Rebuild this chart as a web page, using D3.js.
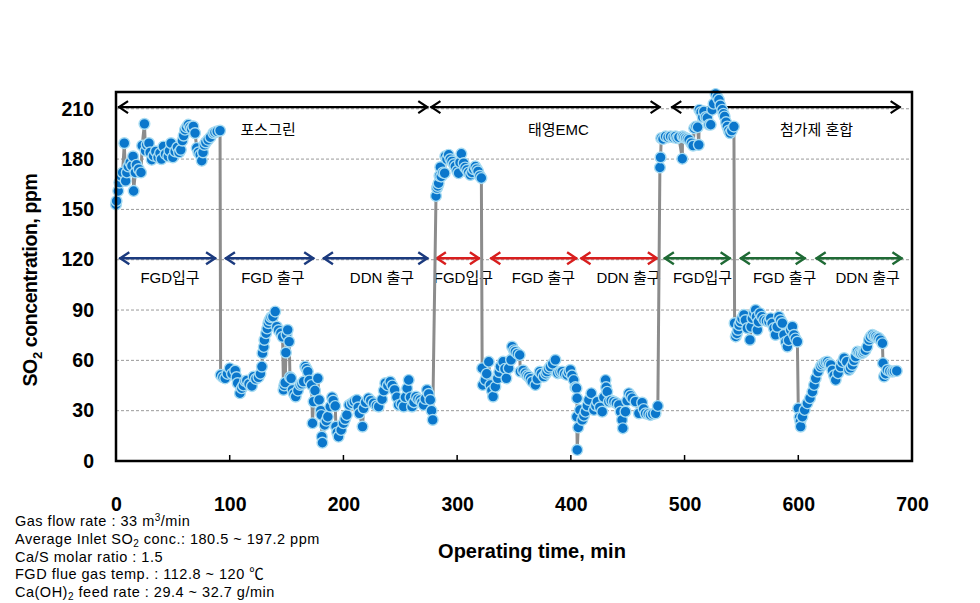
<!DOCTYPE html>
<html><head><meta charset="utf-8">
<script src="https://cdn.jsdelivr.net/npm/d3@7"></script>
<style>
html,body{margin:0;padding:0;background:#fff;}
svg{display:block;}
</style></head>
<body>
<svg id="chart" width="980" height="603"></svg>
<script>
// ---------- DATA ----------
const times = [
 0,0.5,2,3,4.4,5.8,7.3,8.5,9.5,10.8,12.5,14,15,15.5,17,18,20,22,23,25,26,27,29,30,31.4,33,35,37,38.7,40,41.7,43.5,46,47,48.4,50,52,54,55.5,57,58.4,59.5,60.7,62,63.6,65,66.5,68,69.5,71,72.5,74,75.4,76.5,77.7,79,81,83,85.6,87,89,91.5,
 92,94,96,98,100,102,104.8,106,107,109,110.6,112,113.5,115,117,119.5,121,123,125.3,127,128.3,128.8,130,130.5,132,133,134,135,136.4,138,140,141.4,143,145,146.5,147.3,148,148.8,149.4,150,151,152.3,153,154,155.2,156.5,158,160,162,163.5,165,166.4,167.5,168.7,170,172,172.8,173.7,175,177.5,178.7,180,180.5,181,181.5,183.4,185,186.3,188.4,190,191,192.8,193.4,194.5,195.7,198,200,201.5,203,205,207.4,209.5,211.8,213,214,216.8,217.7,219.5,222,224,226.5,229,231,234,235.5,236.8,239,241.2,243,245,247,248.5,251,253,254.5,256,257.4,259,260.3,262,263.8,265.5,267.6,269,270.5,272,273.5,275,276.4,277.5,278.5,
 281.4,282.3,283,283.7,284.5,285.2,286,287.5,289,289.6,291,292.5,294,295.5,297,298.4,300,301.3,302.5,303.7,305.7,307,308.7,310,311.6,313,314.5,316,317.3,318.4,320,321.3,
 322,322.5,324.8,326,327.8,329.2,330.5,331.6,333.6,335.7,337,338,340.4,342,343.3,345.3,347.4,348.3,350,351.2,353,355,355.6,358,360,361.5,363,364.5,366,368.8,370.5,372.6,374,376.1,378,379,380.5,382,384,386.4,388.5,390.5,392.3,394.5,396.7,398,399.6,401,402.5,404,405,405.5,405.2,405.6,406.5,408,410,411.5,412.9,414.5,415.8,418,420.3,422,423.3,425.5,427.6,429,430.5,431,432,433.4,435.5,437.8,440,442.2,443.7,445,445.7,448,449.5,451,452.5,454,456.9,459.8,462.7,464,465.7,468,470,472,474.5,476.5,
 478.3,478.9,479.5,481,483.3,485.5,487.7,490,492,493.5,495,498,498.2,499.5,501,502.5,504,506,507.5,508.5,510,511.5,512.5,513,514.5,516,517,518.5,520,521.5,523,524.3,525.5,527.3,528.8,530.2,531.5,533.2,534.2,535.2,536.5,537.6,538.8,540,541.5,543.4,
 544,545,546,547,548,549.3,550.5,552.2,553.5,555.2,557.5,558.5,559.6,561,562.5,563.2,564,565,566.3,568,569.8,572,574.2,575.7,577,578.6,580,581.5,583,584.5,586,587.4,589,590.4,591.5,593.3,594.8,596.2,597.5,599.2,
 600,601,601.8,602.1,603.6,605.6,608,610.3,612.4,613.9,615.3,617.4,619.7,621,622.6,624,625.6,627,628.5,630,631.5,632.9,635,637.3,638.8,640.3,642.6,644.6,646,647.6,649,650.5,652,653.5,654.9,656.5,657.8,659,660.7,662.2,663.5,665.2,666.5,668.1,669.5,671,672.5,674,674.5,675.4,676.8,678.3,680.5,682.7,684.5,686.6
];
const so2 = [
 153,155,161,166,170,172,189.5,167,172,175.6,178,176,181.6,161,172,176.6,174,172,188,201,185,188.5,189.5,184,179.6,182,184.6,181,183.6,180,187.5,183,181.6,185,189.5,181,184.6,187,184,185.5,191,194,197.5,199,200.5,199,198,199.5,195.5,186.6,184,182.6,179,184,188.5,190,191.5,193,195.5,196,196.5,197,
 51.3,50,49.3,52,55.3,52,53.9,50,46.4,40.4,43.4,45,47.7,48,46,44.7,50.3,49,49.9,52,56.3,64.3,68,72.2,76.2,79,82.2,84,85.7,86,89.1,80.1,78,76.2,74,42.4,45,46.7,64.6,75.2,78.2,71.2,50,49.3,42.4,40,38.4,42,45.3,46,47.3,56.3,55,53.3,48,45.3,22.5,35.4,42,49.3,36.4,30,27.4,14.5,10.9,21.5,24,26.4,32.4,38,36,32.8,20.5,17,14.5,18.5,22.5,25,27.4,33.4,34.4,35.5,36.4,32,28.4,20.5,31.4,35,37.4,36,34.4,33,32.4,36.8,42,46.4,45,47.3,45,42.4,38,33.4,34,32.4,38,43.4,48.3,38,32.4,35,38.4,37,36.4,35,33.4,37,42.4,40,36.4,30,24.5,
 158,162.7,164,165.6,170,175.2,169.6,172,171.6,181.6,180,182.6,180,178.6,177,175.6,173,171.6,178,183.2,177.6,175,173.6,172,170.6,172,174,175.6,174,172.7,170,168.7,
 55.3,45.3,48.3,52,59.2,45.3,42,38.4,44.3,49.3,53,56.3,59.2,55,49.3,55.3,60.3,68.2,66,65.2,64,63.2,53.3,54,52.3,51,50.3,49,47.3,45.3,49,53.3,52,50.3,52,53.3,55,56.3,58,60.3,52.3,53,53.3,52,51.3,53,54.3,51,48.3,44,43.4,37.4,26.4,6.6,20,30.4,24.5,27,29.4,33,36.4,40.4,30.4,33,35.4,32,29.4,38,48.3,44,41.3,35.4,36,35.4,34.5,33.4,29.4,24.5,19.5,29.4,36,40.4,39,37.4,35.4,28.4,34.8,31,28.4,28,27.4,28,28.4,32.8,
 175,181,192.5,192,193.5,193,193.5,193,193.5,192.5,193,180.2,193.5,193,192.5,192,191.5,189.5,188,198.4,199.4,199,188.5,209.4,208,205,208.4,205,204.5,200.5,200.5,209.4,213,218.8,217,215.4,212,209.4,207,205.4,202,199.4,197,195.5,197,199.4,
 82.2,74.2,76,78.2,81,83.1,85,87.1,84,79.2,72.2,80,85.1,88,90.1,86,78.2,83,88.1,86,84.1,83.5,83.1,85.1,82,79.2,75.2,80,86.1,84,82.2,75.2,71,68.2,72,78.2,80.1,75.2,73,71.2,
 31.4,26,23.5,20.5,26.4,30.4,34.4,37.4,41.3,45.3,49.3,53.3,56.3,57.5,58.3,59,59.2,58,57.3,54,51,48.3,52.3,56.3,59,61.3,59.2,54.3,55.5,57.3,60,62.2,65.2,64.5,64.2,64.5,65.2,66,68.2,72.2,74,75.2,74.5,74.2,73.5,73.2,72,70.2,58.3,50.3,52,54.3,53.5,53.3,53.5,53.7
];
const xTicks = [0,100,200,300,400,500,600,700];
const yTicks = [0,30,60,90,120,150,180,210];
const gridValues = [30,60,90,120,150,180,210];

// additive groups (top arrows): [start, end, label, labelCenter]
const additiveSpans = [
  [1.8, 274.6, "포스그린", 133.8],
  [276.5, 478.9, "태영EMC", 389],
  [488.3, 690, "첨가제 혼합", 616]
];
// sampling points (middle arrows): [start, end, label, labelCenter, group]
const pointSpans = [
  [2.9, 88.0, "FGD입구", 47.5, 0],
  [95.8, 174.3, "FGD 출구", 138, 0],
  [182.0, 274.6, "DDN 출구", 233.9, 0],
  [281.3, 320, "FGD입구", 305.5, 1],
  [329.2, 405.5, "FGD 출구", 375.9, 1],
  [408.5, 476.5, "DDN 출구", 450.7, 1],
  [481.8, 540.5, "FGD입구", 515.8, 2],
  [548.7, 606.5, "FGD 출구", 588, 2],
  [615.3, 691.6, "DDN 출구", 661, 2]
];
const groupColors = ["#1b3a7e", "#d81e1e", "#1f6a35"];
const notes = [
  [{t:"Gas flow rate : 33 m"},{t:"3",sup:true},{t:"/min"}],
  [{t:"Average Inlet SO"},{t:"2",sub:true},{t:" conc.: 180.5 ~ 197.2 ppm"}],
  [{t:"Ca/S molar ratio : 1.5"}],
  [{t:"FGD flue gas temp. : 112.8 ~ 120 ℃"}],
  [{t:"Ca(OH)"},{t:"2",sub:true},{t:" feed rate : 29.4 ~ 32.7 g/min"}]
];

// ---------- DRAW ----------
const svg = d3.select("#chart");
const L = 116, R = 912, T = 92, B = 461;
const x = d3.scaleLinear().domain([0,700]).range([L,R]);
const y = d3.scaleLinear().domain([0,220]).range([B,T]);
const latin = "'Liberation Sans', Arial, 'Noto Sans CJK KR', sans-serif";

svg.append("rect").attr("width",980).attr("height",603).attr("fill","#fff");

// grid
svg.append("g").selectAll("line").data(gridValues).join("line")
  .attr("x1",L).attr("x2",R).attr("y1",d=>y(d)).attr("y2",d=>y(d))
  .attr("stroke","#9a9a9a").attr("stroke-width",1).attr("stroke-dasharray","3,2");

// arrows helper
function arrow(g, x1, x2, yy, color, w){
  g.append("line").attr("x1",x1).attr("x2",x2).attr("y1",yy).attr("y2",yy)
    .attr("stroke",color).attr("stroke-width",w);
  const hl = 10, hw = 6;
  g.append("path").attr("d",`M${x1+hl},${yy-hw}L${x1+1},${yy}L${x1+hl},${yy+hw}`)
    .attr("fill","none").attr("stroke",color).attr("stroke-width",w);
  g.append("path").attr("d",`M${x2-hl},${yy-hw}L${x2-1},${yy}L${x2-hl},${yy+hw}`)
    .attr("fill","none").attr("stroke",color).attr("stroke-width",w);
}
const ann = svg.append("g");
additiveSpans.forEach(s=>{
  arrow(ann, x(s[0]), x(s[1]), y(211), "#000", 2.2);
  ann.append("text").attr("x",x(s[3])).attr("y",y(211)+28)
    .attr("text-anchor","middle").attr("font-family",latin).attr("font-size",15)
    .attr("fill","#000").text(s[2]);
});
pointSpans.forEach(s=>{
  arrow(ann, x(s[0]), x(s[1]), y(120.9), groupColors[s[4]], 2.4);
  ann.append("text").attr("x",x(s[3])).attr("y",y(120.9)+25)
    .attr("text-anchor","middle").attr("font-family",latin).attr("font-size",15)
    .attr("fill","#000").text(s[2]);
});

// series
const pts = times.map((t,i)=>({t, v: so2[i]}));
svg.append("path").datum(pts)
  .attr("d", d3.line().x(d=>x(d.t)).y(d=>y(d.v)))
  .attr("fill","none").attr("stroke","#8c8c8c").attr("stroke-width",3);
svg.append("g").selectAll("circle").data(pts).join("circle")
  .attr("cx",d=>x(d.t)).attr("cy",d=>y(d.v)).attr("r",5.4)
  .attr("fill","#0b77cc").attr("stroke","#a8dcf2").attr("stroke-width",1.4);

// frame
svg.append("rect").attr("x",L).attr("y",T).attr("width",R-L).attr("height",B-T)
  .attr("fill","none").attr("stroke","#000").attr("stroke-width",2.5);

// x ticks (inward)
svg.append("g").selectAll("line").data(xTicks.slice(1,-1)).join("line")
  .attr("x1",d=>x(d)).attr("x2",d=>x(d)).attr("y1",B).attr("y2",B-6)
  .attr("stroke","#000").attr("stroke-width",1.5);

// axes labels via d3 axes
const xAxis = d3.axisBottom(x).tickValues(xTicks).tickSize(0).tickPadding(36).tickFormat(d3.format("d"));
const gx = svg.append("g").attr("transform",`translate(0,${B})`).call(xAxis);
gx.select(".domain").remove();
gx.selectAll("text").attr("font-family",latin).attr("font-size",19.5).attr("font-weight","bold").attr("fill","#000");

const yAxis = d3.axisLeft(y).tickValues(yTicks).tickSize(0).tickPadding(22).tickFormat(d3.format("d"));
const gy = svg.append("g").attr("transform",`translate(${L},0)`).call(yAxis);
gy.select(".domain").remove();
gy.selectAll("text").attr("font-family",latin).attr("font-size",19.5).attr("font-weight","bold").attr("fill","#000");

// axis titles
svg.append("text").attr("x",532).attr("y",558).attr("text-anchor","middle")
  .attr("font-family",latin).attr("font-size",20).attr("font-weight","bold").text("Operating time, min");
const yt = svg.append("text").attr("transform","translate(37,280) rotate(-90)").attr("text-anchor","middle")
  .attr("font-family",latin).attr("font-size",19.5).attr("font-weight","bold").attr("letter-spacing",-0.4);
yt.append("tspan").text("SO");
yt.append("tspan").attr("font-size",13).attr("dy",5).text("2");
yt.append("tspan").attr("dy",-5).text(" concentration, ppm");

// notes
notes.forEach((line,i)=>{
  const tx = svg.append("text").attr("x",15).attr("y",526+i*17.8)
    .attr("font-family",latin).attr("font-size",14.5).attr("letter-spacing",0.5).attr("fill","#000");
  line.forEach((p,j)=>{
    const ts = tx.append("tspan").text(p.t);
    let dy = 0;
    if(p.sub) dy += 3;
    if(p.sup) dy -= 5;
    if(j>0 && line[j-1].sub) dy -= 3;
    if(j>0 && line[j-1].sup) dy += 5;
    if(dy) ts.attr("dy",dy);
    if(p.sub || p.sup) ts.attr("font-size",10);
  });
});
</script>
</body></html>
